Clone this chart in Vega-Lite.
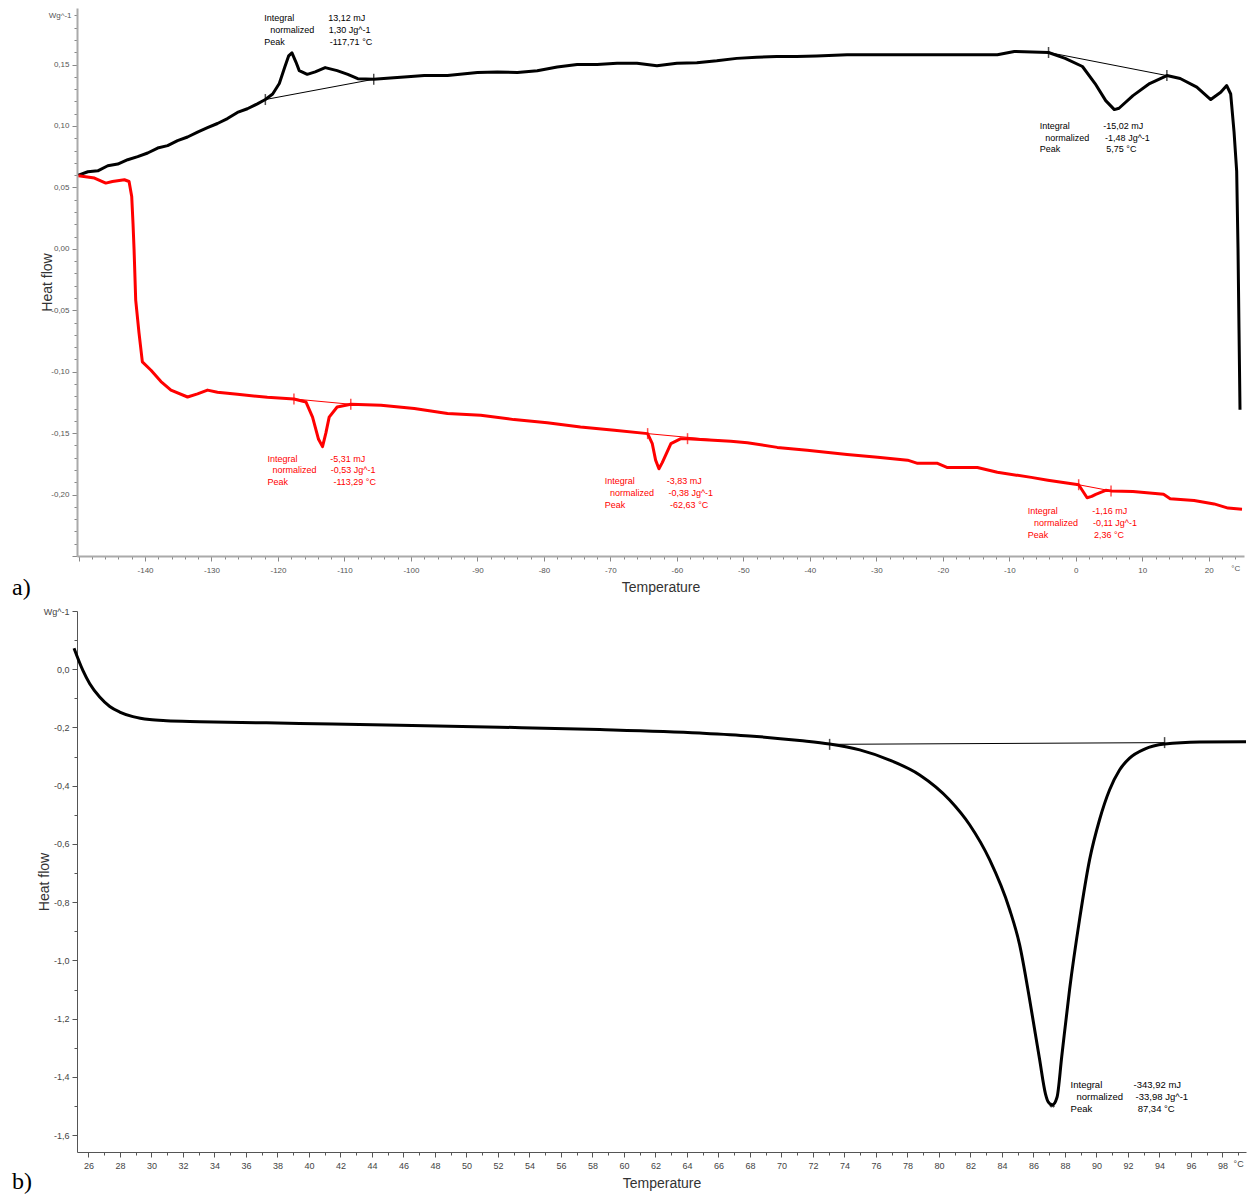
{
  "$schema": "https://vega.github.io/schema/vega-lite/v6.json",
  "background": "white",
  "padding": {"left": 12, "top": 8, "right": 0, "bottom": 0},
  "config": {"view": {"stroke": null}, "font": "Liberation Sans", "axis": {"grid": false}},
  "datasets": {
    "topA": [
      {"T": -150.0, "y": 0.060}, {"T": -148.6, "y": 0.0627}, {"T": -147.1, "y": 0.0635}, {"T": -145.6, "y": 0.0676},
      {"T": -144.1, "y": 0.069}, {"T": -142.6, "y": 0.0725}, {"T": -141.1, "y": 0.075}, {"T": -139.6, "y": 0.078},
      {"T": -138.1, "y": 0.082}, {"T": -136.6, "y": 0.084}, {"T": -135.1, "y": 0.088}, {"T": -133.6, "y": 0.091},
      {"T": -132.1, "y": 0.095}, {"T": -130.6, "y": 0.0986}, {"T": -129.1, "y": 0.102}, {"T": -127.6, "y": 0.106},
      {"T": -126.1, "y": 0.111}, {"T": -124.6, "y": 0.114}, {"T": -123.1, "y": 0.118}, {"T": -121.9, "y": 0.1215},
      {"T": -120.8, "y": 0.126}, {"T": -119.8, "y": 0.1345}, {"T": -119.0, "y": 0.1475}, {"T": -118.4, "y": 0.157},
      {"T": -117.9, "y": 0.1595}, {"T": -117.3, "y": 0.152}, {"T": -116.8, "y": 0.145}, {"T": -115.6, "y": 0.142},
      {"T": -114.4, "y": 0.144}, {"T": -112.9, "y": 0.1475}, {"T": -111.1, "y": 0.145}, {"T": -109.5, "y": 0.142},
      {"T": -108.0, "y": 0.1385}, {"T": -105.6, "y": 0.138}, {"T": -103.1, "y": 0.139}, {"T": -100.5, "y": 0.140},
      {"T": -98.0, "y": 0.141}, {"T": -94.5, "y": 0.141}, {"T": -90, "y": 0.1435}, {"T": -87, "y": 0.144},
      {"T": -84, "y": 0.1435}, {"T": -81, "y": 0.145}, {"T": -78, "y": 0.148}, {"T": -75, "y": 0.150},
      {"T": -72, "y": 0.150}, {"T": -69, "y": 0.151}, {"T": -66, "y": 0.151}, {"T": -63, "y": 0.149},
      {"T": -60, "y": 0.151}, {"T": -57, "y": 0.1515}, {"T": -54, "y": 0.153}, {"T": -51, "y": 0.155},
      {"T": -48, "y": 0.156}, {"T": -45, "y": 0.1565}, {"T": -42, "y": 0.1565}, {"T": -39, "y": 0.157},
      {"T": -34.4, "y": 0.158}, {"T": -29.8, "y": 0.158}, {"T": -26.8, "y": 0.158}, {"T": -22.3, "y": 0.158},
      {"T": -17.8, "y": 0.158}, {"T": -11.8, "y": 0.158}, {"T": -9.25, "y": 0.1606}, {"T": -4.1, "y": 0.1598},
      {"T": -1.6, "y": 0.155}, {"T": 1.0, "y": 0.1484}, {"T": 2.9, "y": 0.1345}, {"T": 4.5, "y": 0.1206},
      {"T": 5.8, "y": 0.1133}, {"T": 6.5, "y": 0.1144}, {"T": 8.6, "y": 0.1247}, {"T": 11.1, "y": 0.1345},
      {"T": 13.7, "y": 0.141}, {"T": 15.7, "y": 0.1386}, {"T": 18.2, "y": 0.1316}, {"T": 20.3, "y": 0.1215},
      {"T": 21.8, "y": 0.1274}, {"T": 22.7, "y": 0.1329}, {"T": 23.3, "y": 0.126}, {"T": 23.8, "y": 0.0953},
      {"T": 24.2, "y": 0.063}, {"T": 24.4, "y": 0.0}, {"T": 24.55, "y": -0.066}, {"T": 24.7, "y": -0.131}
    ],
    "topB": [
      {"T": -150.0, "y": 0.0595}, {"T": -147.6, "y": 0.0576}, {"T": -145.9, "y": 0.0535}, {"T": -144.9, "y": 0.0548},
      {"T": -143.1, "y": 0.0562}, {"T": -142.4, "y": 0.0548}, {"T": -142.0, "y": 0.0426}, {"T": -141.8, "y": 0.02},
      {"T": -141.65, "y": 0.0}, {"T": -141.4, "y": -0.0417}, {"T": -140.9, "y": -0.0686}, {"T": -140.4, "y": -0.092},
      {"T": -139.1, "y": -0.0988}, {"T": -137.6, "y": -0.108}, {"T": -136.1, "y": -0.115}, {"T": -133.6, "y": -0.1206},
      {"T": -132.1, "y": -0.118}, {"T": -130.6, "y": -0.115}, {"T": -129.1, "y": -0.1167}, {"T": -126.1, "y": -0.1184},
      {"T": -121.6, "y": -0.1208}, {"T": -117.6, "y": -0.1222}, {"T": -115.8, "y": -0.1246}, {"T": -114.8, "y": -0.1369},
      {"T": -113.9, "y": -0.155}, {"T": -113.3, "y": -0.161}, {"T": -112.8, "y": -0.150}, {"T": -112.3, "y": -0.137},
      {"T": -111.1, "y": -0.1287}, {"T": -109.05, "y": -0.1265}, {"T": -104.5, "y": -0.1273}, {"T": -99.5, "y": -0.130},
      {"T": -94.5, "y": -0.134}, {"T": -89.5, "y": -0.1355}, {"T": -84.5, "y": -0.139}, {"T": -79.5, "y": -0.1415},
      {"T": -74.5, "y": -0.145}, {"T": -69.4, "y": -0.1477}, {"T": -64.4, "y": -0.1504}, {"T": -63.7, "y": -0.1586},
      {"T": -63.2, "y": -0.172}, {"T": -62.7, "y": -0.179}, {"T": -62.2, "y": -0.174}, {"T": -60.9, "y": -0.1586},
      {"T": -59.4, "y": -0.1545}, {"T": -58.4, "y": -0.1545}, {"T": -51.9, "y": -0.1567}, {"T": -49.4, "y": -0.1578},
      {"T": -44.9, "y": -0.1616}, {"T": -40.4, "y": -0.164}, {"T": -34.4, "y": -0.1673}, {"T": -29.8, "y": -0.1697},
      {"T": -25.3, "y": -0.172}, {"T": -23.8, "y": -0.1746}, {"T": -20.8, "y": -0.1746}, {"T": -19.3, "y": -0.178},
      {"T": -14.8, "y": -0.178}, {"T": -11.8, "y": -0.1819}, {"T": -6.7, "y": -0.186}, {"T": -4.2, "y": -0.1883},
      {"T": 0.43, "y": -0.192}, {"T": 1.7, "y": -0.2026}, {"T": 2.4, "y": -0.2015}, {"T": 3.0, "y": -0.1998},
      {"T": 4.5, "y": -0.1965}, {"T": 5.3, "y": -0.197}, {"T": 8.6, "y": -0.1976}, {"T": 13.2, "y": -0.1998},
      {"T": 14.2, "y": -0.2034}, {"T": 17.8, "y": -0.2048}, {"T": 20.8, "y": -0.2076}, {"T": 22.9, "y": -0.211},
      {"T": 25.0, "y": -0.212}
    ],
    "topBase": [
      {"seg": "a1", "s": "A", "T": -121.9, "y": 0.1215}, {"seg": "a1", "s": "A", "T": -105.6, "y": 0.138},
      {"seg": "a2", "s": "A", "T": -4.1, "y": 0.1598}, {"seg": "a2", "s": "A", "T": 13.7, "y": 0.141},
      {"seg": "b1", "s": "B", "T": -117.6, "y": -0.1222}, {"seg": "b1", "s": "B", "T": -109.05, "y": -0.1265},
      {"seg": "b2", "s": "B", "T": -64.4, "y": -0.1504}, {"seg": "b2", "s": "B", "T": -51.9, "y": -0.1567},
      {"seg": "b3", "s": "B", "T": 0.43, "y": -0.192}, {"seg": "b3", "s": "B", "T": 5.3, "y": -0.197}
    ],
    "topTicks": [
      {"s": "A", "T": -121.9, "y": 0.1215}, {"s": "A", "T": -105.6, "y": 0.138},
      {"s": "A", "T": -4.1, "y": 0.1598}, {"s": "A", "T": 13.7, "y": 0.141},
      {"s": "B", "T": -117.6, "y": -0.1222}, {"s": "B", "T": -109.05, "y": -0.1265},
      {"s": "B", "T": -64.4, "y": -0.1504}, {"s": "B", "T": -58.4, "y": -0.1545},
      {"s": "B", "T": 0.43, "y": -0.192}, {"s": "B", "T": 5.3, "y": -0.197}
    ],
    "topText": [
      {"s": "A", "T": -122.08, "y": 0.1881, "label": "Integral"},
      {"s": "A", "T": -121.17, "y": 0.1777, "label": "normalized"},
      {"s": "A", "T": -122.08, "y": 0.1682, "label": "Peak"},
      {"s": "A", "T": -112.45, "y": 0.1881, "label": "13,12 mJ"},
      {"s": "A", "T": -112.36, "y": 0.1777, "label": "1,30 Jg^-1"},
      {"s": "A", "T": -112.21, "y": 0.1682, "label": "-117,71 °C"},
      {"s": "A", "T": -5.43, "y": 0.1002, "label": "Integral"},
      {"s": "A", "T": -4.59, "y": 0.0906, "label": "normalized"},
      {"s": "A", "T": -5.43, "y": 0.0812, "label": "Peak"},
      {"s": "A", "T": 4.14, "y": 0.1002, "label": "-15,02 mJ"},
      {"s": "A", "T": 4.41, "y": 0.0906, "label": "-1,48 Jg^-1"},
      {"s": "A", "T": 4.59, "y": 0.0812, "label": "5,75 °C"},
      {"s": "B", "T": -121.58, "y": -0.1714, "label": "Integral"},
      {"s": "B", "T": -120.83, "y": -0.1803, "label": "normalized"},
      {"s": "B", "T": -121.58, "y": -0.1899, "label": "Peak"},
      {"s": "B", "T": -112.15, "y": -0.1714, "label": "-5,31 mJ"},
      {"s": "B", "T": -112.06, "y": -0.1803, "label": "-0,53 Jg^-1"},
      {"s": "B", "T": -111.65, "y": -0.1899, "label": "-113,29 °C"},
      {"s": "B", "T": -70.86, "y": -0.1891, "label": "Integral"},
      {"s": "B", "T": -70.05, "y": -0.1989, "label": "normalized"},
      {"s": "B", "T": -70.86, "y": -0.2081, "label": "Peak"},
      {"s": "B", "T": -61.53, "y": -0.1891, "label": "-3,83 mJ"},
      {"s": "B", "T": -61.28, "y": -0.1989, "label": "-0,38 Jg^-1"},
      {"s": "B", "T": -61.02, "y": -0.2081, "label": "-62,63 °C"},
      {"s": "B", "T": -7.22, "y": -0.2136, "label": "Integral"},
      {"s": "B", "T": -6.30, "y": -0.2233, "label": "normalized"},
      {"s": "B", "T": -7.22, "y": -0.2330, "label": "Peak"},
      {"s": "B", "T": 2.48, "y": -0.2136, "label": "-1,16 mJ"},
      {"s": "B", "T": 2.57, "y": -0.2233, "label": "-0,11 Jg^-1"},
      {"s": "B", "T": 2.72, "y": -0.2330, "label": "2,36 °C"}
    ],
    "botCurve": [
      {"T": 25.08, "y": 0.072}, {"T": 25.65, "y": -0.005}, {"T": 26.08, "y": -0.050}, {"T": 26.71, "y": -0.0955},
      {"T": 27.35, "y": -0.128}, {"T": 27.98, "y": -0.147}, {"T": 28.82, "y": -0.1626}, {"T": 29.88, "y": -0.173},
      {"T": 30.95, "y": -0.177}, {"T": 33.06, "y": -0.180}, {"T": 39.41, "y": -0.186}, {"T": 45.76, "y": -0.192},
      {"T": 52.11, "y": -0.199}, {"T": 58.46, "y": -0.207}, {"T": 64.81, "y": -0.219}, {"T": 67.98, "y": -0.229},
      {"T": 71.16, "y": -0.245}, {"T": 73.06, "y": -0.257}, {"T": 74.97, "y": -0.277}, {"T": 76.87, "y": -0.312},
      {"T": 78.78, "y": -0.363}, {"T": 80.68, "y": -0.449}, {"T": 81.95, "y": -0.534}, {"T": 83.22, "y": -0.654},
      {"T": 84.49, "y": -0.825}, {"T": 85.12, "y": -0.945}, {"T": 85.76, "y": -1.134}, {"T": 86.39, "y": -1.339},
      {"T": 86.77, "y": -1.459}, {"T": 86.95, "y": -1.487}, {"T": 87.2, "y": -1.497}, {"T": 87.5, "y": -1.47},
      {"T": 87.8, "y": -1.33}, {"T": 88.30, "y": -1.099}, {"T": 88.93, "y": -0.860}, {"T": 89.57, "y": -0.654},
      {"T": 90.2, "y": -0.517}, {"T": 90.84, "y": -0.414}, {"T": 91.47, "y": -0.346}, {"T": 92.11, "y": -0.305},
      {"T": 93.06, "y": -0.274}, {"T": 94.33, "y": -0.257}, {"T": 96.55, "y": -0.250}, {"T": 99.5, "y": -0.249}
    ],
    "botBase": [
      {"seg": "c1", "s": "A", "T": 73.06, "y": -0.258}, {"seg": "c1", "s": "A", "T": 94.33, "y": -0.252}
    ],
    "botTicks": [
      {"s": "A", "T": 73.06, "y": -0.258}, {"s": "A", "T": 94.33, "y": -0.252}
    ],
    "botPeak": [
      {"s": "A", "T": 87.2, "y": -1.497}
    ],
    "botText": [
      {"s": "A", "T": 88.36, "y": -1.428, "label": "Integral"},
      {"s": "A", "T": 88.74, "y": -1.469, "label": "normalized"},
      {"s": "A", "T": 88.36, "y": -1.510, "label": "Peak"},
      {"s": "A", "T": 92.36, "y": -1.428, "label": "-343,92 mJ"},
      {"s": "A", "T": 92.49, "y": -1.469, "label": "-33,98 Jg^-1"},
      {"s": "A", "T": 92.62, "y": -1.510, "label": "87,34 °C"}
    ]
  },
  "spacing": 7,
  "vconcat": [
    {
      "width": 1167,
      "height": 548,
      "title": {"text": "a)", "orient": "bottom", "anchor": "start", "frame": "group", "font": "Liberation Serif", "fontSize": 24, "fontWeight": "normal", "color": "#000", "dx": -65, "dy": -18, "offset": 0},
      "encoding": {
        "x": {"field": "T", "type": "quantitative", "scale": {"domain": [-150.23, 25.3], "nice": false, "zero": false},
          "axis": {
            "title": "Temperature", "titleFontSize": 14, "titleFontWeight": "normal", "titleColor": "#333", "titlePadding": 6,
            "values": [-150,-148,-146,-144,-142,-140,-138,-136,-134,-132,-130,-128,-126,-124,-122,-120,-118,-116,-114,-112,-110,-108,-106,-104,-102,-100,-98,-96,-94,-92,-90,-88,-86,-84,-82,-80,-78,-76,-74,-72,-70,-68,-66,-64,-62,-60,-58,-56,-54,-52,-50,-48,-46,-44,-42,-40,-38,-36,-34,-32,-30,-28,-26,-24,-22,-20,-18,-16,-14,-12,-10,-8,-6,-4,-2,0,2,4,6,8,10,12,14,16,18,20,22,24],
            "labelExpr": "datum.value == 24 ? '°C' : ((datum.value % 10 == 0 && datum.value > -150) ? replace(format(datum.value, 'd'), '−', '-') : '')",
            "labelFontSize": 8, "labelColor": "#555", "labelOverlap": false, "labelPadding": 5, "labelFlush": false,
            "tickSize": {"condition": {"test": "datum.value % 10 == 0", "value": 5}, "value": 3},
            "tickColor": "#888", "tickWidth": 1, "domainColor": "#aaa", "domainWidth": 2
          }
        },
        "y": {"field": "y", "type": "quantitative", "scale": {"domain": [-0.25, 0.196], "nice": false, "zero": false},
          "axis": {
            "title": "Heat flow", "titleFontSize": 14, "titleFontWeight": "normal", "titleColor": "#333", "titlePadding": -6,
            "values": [-0.25,-0.24,-0.23,-0.22,-0.21,-0.2,-0.19,-0.18,-0.17,-0.16,-0.15,-0.14,-0.13,-0.12,-0.11,-0.1,-0.09,-0.08,-0.07,-0.06,-0.05,-0.04,-0.03,-0.02,-0.01,0,0.01,0.02,0.03,0.04,0.05,0.06,0.07,0.08,0.09,0.1,0.11,0.12,0.13,0.14,0.15,0.16,0.17,0.18,0.19],
            "labelExpr": "datum.value > 0.185 ? 'Wg^-1' : ((datum.value > -0.245 && abs(round(datum.value * 100)) % 5 == 0) ? replace(replace(format(datum.value, '.2f'), '.', ','), '−', '-') : '')",
            "labelFontSize": 8, "labelColor": "#555", "labelOverlap": false, "labelPadding": 3, "labelFlush": false,
            "tickSize": {"condition": {"test": "abs(round(datum.value * 100)) % 5 == 0", "value": 5}, "value": 3},
            "tickColor": "#888", "tickWidth": 1, "domainColor": "#aaa", "domainWidth": 2
          }
        }
      },
      "layer": [
        {"data": {"name": "topA"}, "mark": {"type": "line", "color": "#000000", "strokeWidth": 3, "strokeJoin": "round"}},
        {"data": {"name": "topB"}, "mark": {"type": "line", "color": "#ff0000", "strokeWidth": 3, "strokeJoin": "round"}},
        {"data": {"name": "topBase"}, "mark": {"type": "line", "strokeWidth": 1},
          "encoding": {"detail": {"field": "seg"}, "color": {"field": "s", "type": "nominal", "scale": {"domain": ["A", "B"], "range": ["#000000", "#ff0000"]}, "legend": null}}},
        {"data": {"name": "topTicks"}, "mark": {"type": "tick", "orient": "vertical", "size": 11, "thickness": 1.5},
          "encoding": {"color": {"field": "s", "type": "nominal", "scale": {"domain": ["A", "B"], "range": ["#000000", "#ff0000"]}, "legend": null}}},
        {"data": {"name": "topText"}, "mark": {"type": "text", "align": "left", "baseline": "middle", "fontSize": 9},
          "encoding": {"text": {"field": "label"}, "color": {"field": "s", "type": "nominal", "scale": {"domain": ["A", "B"], "range": ["#000000", "#ff0000"]}, "legend": null}}}
      ]
    },
    {
      "width": 1169,
      "height": 541,
      "title": {"text": "b)", "orient": "bottom", "anchor": "start", "frame": "group", "font": "Liberation Serif", "fontSize": 24, "fontWeight": "normal", "color": "#000", "dx": -65, "dy": -20, "offset": 0},
      "encoding": {
        "x": {"field": "T", "type": "quantitative", "scale": {"domain": [25.27, 99.5], "nice": false, "zero": false},
          "axis": {
            "title": "Temperature", "titleFontSize": 14, "titleFontWeight": "normal", "titleColor": "#333", "titlePadding": 6,
            "values": [26,27,28,29,30,31,32,33,34,35,36,37,38,39,40,41,42,43,44,45,46,47,48,49,50,51,52,53,54,55,56,57,58,59,60,61,62,63,64,65,66,67,68,69,70,71,72,73,74,75,76,77,78,79,80,81,82,83,84,85,86,87,88,89,90,91,92,93,94,95,96,97,98,99],
            "labelExpr": "datum.value == 99 ? '°C' : (datum.value % 2 == 0 ? format(datum.value, 'd') : '')",
            "labelFontSize": 9, "labelColor": "#444", "labelOverlap": false, "labelPadding": 4, "labelFlush": false,
            "tickSize": {"condition": {"test": "datum.value % 2 == 0", "value": 5}, "value": 3},
            "tickColor": "#555", "tickWidth": 1, "domainColor": "#555", "domainWidth": 1
          }
        },
        "y": {"field": "y", "type": "quantitative", "scale": {"domain": [-1.658, 0.2], "nice": false, "zero": false},
          "axis": {
            "title": "Heat flow", "titleFontSize": 14, "titleFontWeight": "normal", "titleColor": "#333", "titlePadding": -8,
            "values": [-1.6,-1.5,-1.4,-1.3,-1.2,-1.1,-1,-0.9,-0.8,-0.7,-0.6,-0.5,-0.4,-0.3,-0.2,-0.1,0,0.1,0.2],
            "labelExpr": "datum.value > 0.15 ? 'Wg^-1' : (abs(round(datum.value * 10)) % 2 == 0 ? replace(replace(format(datum.value, '.1f'), '.', ','), '−', '-') : '')",
            "labelFontSize": 9, "labelColor": "#444", "labelOverlap": false, "labelPadding": 3, "labelFlush": false,
            "tickSize": {"condition": {"test": "abs(round(datum.value * 10)) % 2 == 0", "value": 5}, "value": 3},
            "tickColor": "#555", "tickWidth": 1, "domainColor": "#555", "domainWidth": 1
          }
        }
      },
      "layer": [
        {"data": {"name": "botCurve"}, "mark": {"type": "line", "color": "#000000", "strokeWidth": 3, "strokeJoin": "round", "interpolate": "monotone"}},
        {"data": {"name": "botBase"}, "mark": {"type": "line", "strokeWidth": 1, "color": "#000000"}, "encoding": {"detail": {"field": "seg"}}},
        {"data": {"name": "botTicks"}, "mark": {"type": "tick", "orient": "vertical", "size": 11, "thickness": 1.5, "color": "#000000"}},
        {"data": {"name": "botPeak"}, "mark": {"type": "point", "shape": "cross", "angle": 45, "size": 30, "filled": true, "color": "#000000"}},
        {"data": {"name": "botText"}, "mark": {"type": "text", "align": "left", "baseline": "middle", "fontSize": 9.5, "color": "#000000"},
          "encoding": {"text": {"field": "label"}}}
      ]
    }
  ]
}
